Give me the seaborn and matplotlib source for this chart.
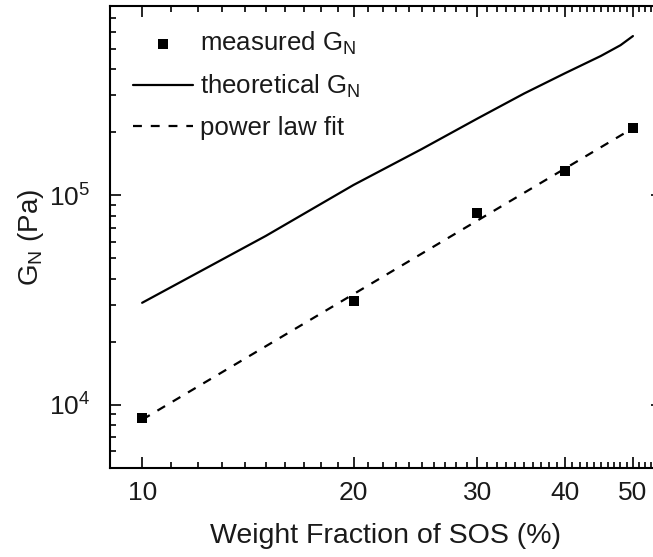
import numpy as np
import pandas as pd
import matplotlib
matplotlib.use("Agg")
import matplotlib.pyplot as plt
from matplotlib.ticker import FixedLocator, NullFormatter, LogLocator, LogFormatterMathtext
import seaborn as sns

# Measured plateau modulus vs SOS weight fraction
weight_fraction = [10, 20, 30, 40, 50]
measured_gn = [8.7e3, 3.14e4, 8.2e4, 1.30e5, 2.10e5]

# Theoretical plateau modulus
theory_wf = [10, 15, 20, 25, 30, 35, 40, 45, 48, 50]
theory_gn = [3.07e4, 6.4e4, 1.12e5, 1.66e5, 2.32e5, 3.06e5, 3.82e5, 4.62e5, 5.2e5, 5.75e5]

# Power-law fit (straight line on log-log axes)
fit_wf = [10, 50]
fit_gn = [8.5e3, 2.09e5]

x_major = [10, 20, 30, 40, 50]
y_major = [1e4, 1e5]

sns.set_style("ticks")
plt.rcParams["font.family"] = ["Liberation Sans", "DejaVu Sans"]
plt.rcParams["mathtext.fontset"] = "custom"
plt.rcParams["mathtext.rm"] = "Liberation Sans"
plt.rcParams["mathtext.it"] = "Liberation Sans:italic"
plt.rcParams["mathtext.bf"] = "Liberation Sans:bold"

text_color = "#1a1a1a"

fig = plt.figure(figsize=(6.53, 5.57), dpi=100)
ax = fig.add_axes([110 / 653, 89 / 557, 552 / 653, 462 / 557])

df_meas = pd.DataFrame({"wf": weight_fraction, "gn": measured_gn})
df_theory = pd.DataFrame({"wf": theory_wf, "gn": theory_gn})
df_fit = pd.DataFrame({"wf": fit_wf, "gn": fit_gn})

sns.scatterplot(data=df_meas, x="wf", y="gn", ax=ax, marker="s", s=58,
                color="black", edgecolor="black", linewidth=0,
                label=r"measured G$_\mathregular{N}$", zorder=3)
sns.lineplot(data=df_theory, x="wf", y="gn", ax=ax, color="black", lw=1.6,
             label=r"theoretical G$_\mathregular{N}$")
sns.lineplot(data=df_fit, x="wf", y="gn", ax=ax, color="black", lw=1.6,
             dashes=False, label="power law fit")
ax.lines[-1].set_dashes([4, 4])

ax.set_xscale("log")
ax.set_yscale("log")
ax.set_xlim(9, 55)
ax.set_ylim(5000, 8e5)

ax.xaxis.set_major_locator(FixedLocator(x_major))
ax.set_xticklabels([str(v) for v in x_major])
minor_x = [v for v in range(9, 56) if v not in x_major]
ax.xaxis.set_minor_locator(FixedLocator(minor_x))
ax.xaxis.set_minor_formatter(NullFormatter())

ax.yaxis.set_major_locator(FixedLocator(y_major))
ax.yaxis.set_major_formatter(LogFormatterMathtext())
ax.yaxis.set_minor_locator(LogLocator(base=10, subs=np.arange(2, 10)))
ax.yaxis.set_minor_formatter(NullFormatter())

ax.tick_params(which="both", direction="in", top=True, right=True,
               colors="black", labelcolor=text_color, labelsize=19, width=1.2)
ax.tick_params(axis="x", which="major", length=8, pad=9)
ax.tick_params(axis="y", which="major", length=8, pad=14)
ax.tick_params(which="minor", length=4.5)
for sp in ax.spines.values():
    sp.set_linewidth(1.5)
    sp.set_color("black")

ax.set_xlabel("Weight Fraction of SOS (%)", fontsize=20.5, color=text_color, labelpad=13)
ax.set_ylabel(r"G$_\mathregular{N}$ (Pa)", fontsize=20, color=text_color, labelpad=2)

leg = ax.legend(loc="upper left", bbox_to_anchor=(0.0036, 0.9935), frameon=False,
                fontsize=18.6, handlelength=2.3, handletextpad=0.3, labelspacing=0.6,
                borderaxespad=0.4, borderpad=0.42, markerscale=0.9)
for t in leg.get_texts():
    t.set_color(text_color)

fig.savefig("out.png", dpi=100)
